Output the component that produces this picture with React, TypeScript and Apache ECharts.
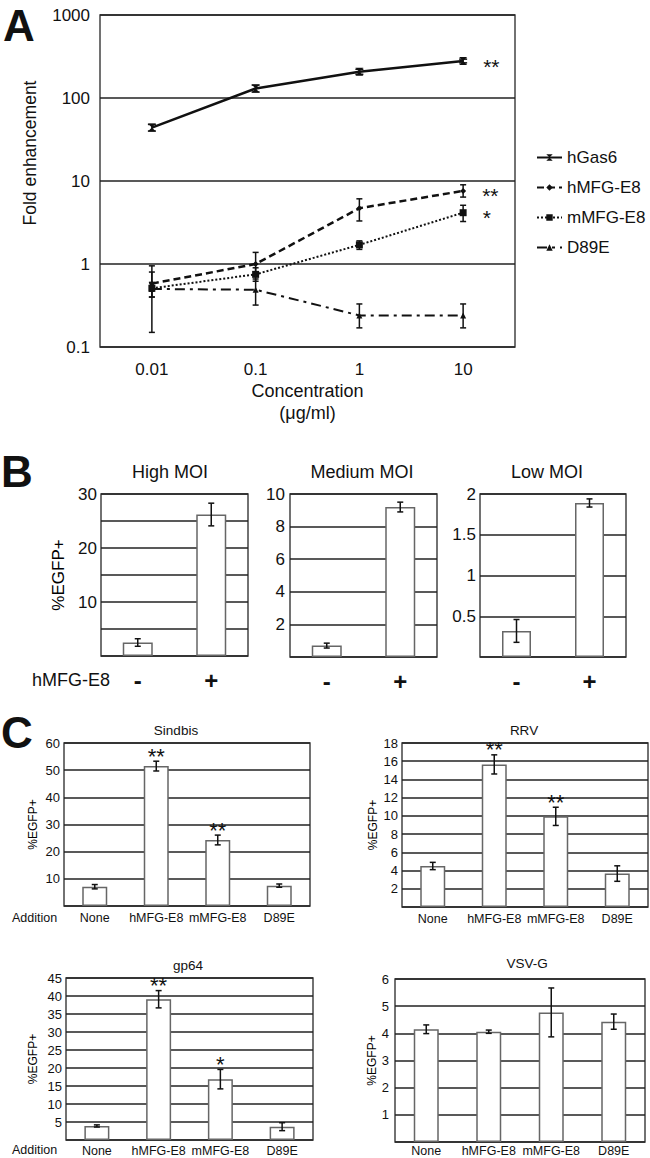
import React, { useEffect, useRef } from 'react';
import * as echarts from 'echarts';

const FONT = '"Liberation Sans", Arial, Helvetica, sans-serif';
const INK = '#111';

// ---------- Panel A ----------
const concentrations = ['0.01', '0.1', '1', '10'];
const lineNames = ['hGas6', 'hMFG-E8', 'mMFG-E8', 'D89E'];
const hGas6 = [44, 130, 207, 279];
const hGas6Low = [40, 118, 193, 265];
const hGas6High = [48, 143, 222, 294];
const hMFG = [0.58, 1.0, 4.7, 7.6];
const hMFGLow = [0.4, 0.72, 3.3, 6.4];
const hMFGHigh = [0.8, 1.38, 6.1, 9.0];
const mMFG = [0.51, 0.75, 1.7, 4.15];
const mMFGLow = [0.15, 0.62, 1.5, 3.25];
const mMFGHigh = [0.95, 0.9, 1.9, 5.1];
const d89e = [0.5, 0.49, 0.24, 0.24];
const d89eLow = [0.4, 0.32, 0.17, 0.17];
const d89eHigh = [0.6, 0.66, 0.33, 0.33];
const lineSig = ['**', '**', '*', ''];

// ---------- Panel B ----------
const moiGroups = ['-', '+'];
const moiTitles = ['High MOI', 'Medium MOI', 'Low MOI'];
const highMoi = [2.5, 26.2];
const highMoiErr = [0.7, 2.1];
const mediumMoi = [0.7, 9.2];
const mediumMoiErr = [0.15, 0.3];
const lowMoi = [0.32, 1.89];
const lowMoiErr = [0.14, 0.05];

// ---------- Panel C ----------
const additions = ['None', 'hMFG-E8', 'mMFG-E8', 'D89E'];
const virusTitles = ['Sindbis', 'RRV', 'gp64', 'VSV-G'];
const sindbis = [7.1, 51.5, 24.3, 7.5];
const sindbisErr = [0.8, 1.8, 1.8, 0.6];
const sindbisSig = ['', '**', '**', ''];
const rrv = [4.5, 15.65, 9.95, 3.67];
const rrvErr = [0.4, 1.05, 1.0, 0.85];
const rrvSig = ['', '**', '**', ''];
const gp64 = [3.9, 39.1, 16.9, 3.7];
const gp64Err = [0.3, 2.4, 2.7, 1.1];
const gp64Sig = ['', '**', '*', ''];
const vsvg = [4.15, 4.06, 4.77, 4.43];
const vsvgErr = [0.16, 0.06, 0.9, 0.28];
const vsvgSig = ['', '', '', ''];

const gridBase = {
  show: true,
  borderColor: '#444',
  borderWidth: 1.5,
  backgroundColor: 'transparent',
  containLabel: false,
  outerBoundsMode: 'none',
};

function errSeries(
  xi: number,
  lows: number[],
  highs: number[],
  cap: number,
  sig?: string[],
  sigSize = 22,
  sigGap = 5
) {
  return {
    type: 'custom',
    xAxisIndex: xi,
    yAxisIndex: xi,
    z: 6,
    silent: true,
    data: lows.map((l, i) => [i, l, highs[i]]),
    renderItem: (params: any, api: any) => {
      const i = api.value(0);
      const lo = api.coord([i, api.value(1)]);
      const hi = api.coord([i, api.value(2)]);
      const st = { stroke: INK, lineWidth: 1.5 };
      const children: any[] = [
        { type: 'line', shape: { x1: lo[0], y1: lo[1], x2: hi[0], y2: hi[1] }, style: st },
        { type: 'line', shape: { x1: lo[0] - cap, y1: lo[1], x2: lo[0] + cap, y2: lo[1] }, style: st },
        { type: 'line', shape: { x1: hi[0] - cap, y1: hi[1], x2: hi[0] + cap, y2: hi[1] }, style: st },
      ];
      const s = sig ? sig[params.dataIndex] : '';
      if (s) {
        children.push({
          type: 'text',
          style: {
            text: s,
            x: hi[0],
            y: hi[1] - sigGap,
            align: 'center',
            verticalAlign: 'middle',
            fontSize: sigSize,
            lineHeight: 12,
            fontFamily: FONT,
            fill: INK,
          },
        });
      }
      return { type: 'group', children };
    },
  };
}

function barSeries(xi: number, vals: number[], width: number) {
  return {
    type: 'bar',
    xAxisIndex: xi,
    yAxisIndex: xi,
    barWidth: width,
    z: 3,
    silent: true,
    data: vals,
    itemStyle: { color: '#fff', borderColor: '#666', borderWidth: 1.5 },
  };
}

function valueY(
  gi: number,
  max: number,
  interval: number,
  fontSize: number,
  margin: number,
  fmt: (v: number) => string,
  name?: string,
  nameGap?: number,
  nameSize?: number
) {
  return {
    type: 'value',
    gridIndex: gi,
    min: 0,
    max,
    interval,
    axisLine: { show: false },
    axisTick: { show: false },
    axisLabel: { fontSize, fontFamily: FONT, color: INK, margin, formatter: fmt },
    splitLine: { show: true, lineStyle: { color: '#222', width: 1.5 } },
    name: name || '',
    nameLocation: 'middle',
    nameGap: nameGap || 20,
    nameRotate: 90,
    nameTextStyle: { fontSize: nameSize || 12, fontFamily: FONT, color: '#000' },
  };
}

function catX(gi: number, data: string[], fontSize: number, margin: number, bold = false) {
  return {
    type: 'category',
    gridIndex: gi,
    data,
    boundaryGap: true,
    axisLine: { show: false },
    axisTick: { show: false },
    axisLabel: {
      interval: 0,
      fontSize,
      fontFamily: FONT,
      fontWeight: bold ? 'bold' : 'normal',
      color: INK,
      margin,
    },
    splitLine: { show: false },
  };
}

function txt(text: string, x: number, y: number, size: number, align = 'center', bold = false, rotation = 0) {
  return {
    type: 'text',
    x,
    y,
    rotation,
    silent: true,
    style: {
      text,
      x: 0,
      y: 0,
      fontSize: size,
      fontFamily: FONT,
      fontWeight: bold ? 'bold' : 'normal',
      fill: INK,
      align,
      verticalAlign: 'middle',
      textAlign: align,
      textVerticalAlign: 'middle',
    },
  };
}

const skipZero = (v: number) => (v === 0 ? '' : String(v));

export default function App() {
  const ref = useRef<HTMLDivElement>(null);

  useEffect(() => {
    if (!ref.current) return;
    const chart = echarts.init(ref.current, null, { renderer: 'svg' });

    const lineData = [hGas6, hMFG, mMFG, d89e];
    const lows = [hGas6Low, hMFGLow, mMFGLow, d89eLow];
    const highs = [hGas6High, hMFGHigh, mMFGHigh, d89eHigh];
    const styles: any[] = [
      { type: 'solid', width: 2.5, symbol: 'path://M0,0L10,0L0,10L10,10Z', size: 8 },
      { type: [7, 4], width: 2.5, symbol: 'diamond', size: 6 },
      { type: [2, 2], width: 2, symbol: 'rect', size: 7 },
      { type: [10, 5, 3, 5], width: 2, symbol: 'triangle', size: 6 },
    ];

    const lineSeries = lineNames.map((name, k) => ({
      name,
      type: 'line',
      xAxisIndex: 0,
      yAxisIndex: 0,
      z: 5,
      silent: true,
      symbol: styles[k].symbol,
      symbolSize: styles[k].size,
      lineStyle: { color: INK, width: styles[k].width, type: styles[k].type },
      itemStyle: { color: INK },
      data: lineData[k].map((v, i) =>
        i === concentrations.length - 1 && lineSig[k]
          ? {
              value: v,
              label: {
                show: true,
                formatter: lineSig[k],
                position: 'right',
                distance: 16,
                offset: [0, 5],
                fontSize: 21,
                lineHeight: 12,
                fontFamily: FONT,
                color: INK,
              },
            }
          : v
      ),
    }));

    const lineErr = lineNames.map((_, k) => errSeries(0, lows[k], highs[k], k === 0 ? 4 : 3));

    const option: any = {
      animation: false,
      backgroundColor: '#fff',
      textStyle: { fontFamily: FONT },
      grid: [
        { ...gridBase, left: 100, top: 15, width: 415, height: 332 },
        { ...gridBase, left: 101, top: 494, width: 147, height: 162 },
        { ...gridBase, left: 290, top: 494, width: 147, height: 163 },
        { ...gridBase, left: 480, top: 494, width: 146, height: 163 },
        { ...gridBase, left: 64, top: 743, width: 246, height: 163 },
        { ...gridBase, left: 402, top: 743, width: 246, height: 164 },
        { ...gridBase, left: 66, top: 978, width: 247, height: 162 },
        { ...gridBase, left: 395, top: 979, width: 250, height: 163 },
      ],
      xAxis: [
        {
          ...catX(0, concentrations, 17, 14),
          name: 'Concentration\n(μg/ml)',
          nameLocation: 'middle',
          nameGap: 33,
          nameTextStyle: { fontSize: 18, lineHeight: 22, fontFamily: FONT, color: INK },
        },
        catX(1, moiGroups, 24, 12, true),
        catX(2, moiGroups, 24, 12, true),
        catX(3, moiGroups, 24, 12, true),
        catX(4, additions, 12.5, 5),
        catX(5, additions, 12.5, 5),
        catX(6, additions, 12.5, 4),
        catX(7, additions, 12.5, 2),
      ],
      yAxis: [
        {
          type: 'log',
          logBase: 10,
          gridIndex: 0,
          min: 0.1,
          max: 1000,
          axisLine: { show: false },
          axisTick: { show: false },
          minorTick: { show: false },
          axisLabel: {
            fontSize: 17,
            fontFamily: FONT,
            color: INK,
            margin: 10,
            formatter: (v: number) => String(+Number(v).toPrecision(3)),
          },
          splitLine: { show: true, lineStyle: { color: '#222', width: 1.5 } },
        },
        valueY(1, 30, 5, 17, 4, (v) => (v % 10 === 0 && v > 0 ? String(v) : ''), '%EGFP+', 34, 17),
        valueY(2, 10, 2, 17, 5, skipZero),
        valueY(3, 2, 0.5, 17, 4, skipZero),
        valueY(4, 60, 10, 13, 4, skipZero, '%EGFP+', 25, 12),
        valueY(5, 18, 2, 13, 4, skipZero, '%EGFP+', 23, 12),
        valueY(6, 45, 5, 13, 4, skipZero, '%EGFP+', 27, 12),
        valueY(7, 6, 1, 13, 6, skipZero, '%EGFP+', 16, 12),
      ],
      legend: {
        data: lineNames,
        orient: 'vertical',
        left: 531,
        top: 144,
        itemWidth: 25,
        itemHeight: 8,
        itemGap: 13,
        selectedMode: false,
        textStyle: { fontSize: 17, fontFamily: FONT, color: INK },
      },
      graphic: [
        txt('A', 3, 25, 44, 'left', true),
        txt('B', 1, 471, 44, 'left', true),
        txt('C', 1, 732, 44, 'left', true),
        txt('Fold enhancement', 30, 153, 17.5, 'center', false, Math.PI / 2),
        txt(moiTitles[0], 170, 472, 18),
        txt(moiTitles[1], 362, 472, 18),
        txt(moiTitles[2], 547, 472, 18),
        txt('hMFG-E8', 32, 680, 18, 'left'),
        txt(virusTitles[0], 176, 730, 13.5),
        txt(virusTitles[1], 524, 730, 13.5),
        txt(virusTitles[2], 188, 965, 13.5),
        txt(virusTitles[3], 527, 963, 13.5),
        txt('Addition', 12, 918, 12.5, 'left'),
        txt('Addition', 12, 1150, 12.5, 'left'),
      ],
      series: [
        ...lineSeries,
        ...lineErr,
        barSeries(1, highMoi, 30),
        errSeries(1, highMoi.map((v, i) => v - highMoiErr[i]), highMoi.map((v, i) => v + highMoiErr[i]), 3),
        barSeries(2, mediumMoi, 30),
        errSeries(2, mediumMoi.map((v, i) => v - mediumMoiErr[i]), mediumMoi.map((v, i) => v + mediumMoiErr[i]), 3),
        barSeries(3, lowMoi, 29),
        errSeries(3, lowMoi.map((v, i) => v - lowMoiErr[i]), lowMoi.map((v, i) => v + lowMoiErr[i]), 3),
        barSeries(4, sindbis, 25),
        errSeries(4, sindbis.map((v, i) => v - sindbisErr[i]), sindbis.map((v, i) => v + sindbisErr[i]), 3, sindbisSig),
        barSeries(5, rrv, 25),
        errSeries(5, rrv.map((v, i) => v - rrvErr[i]), rrv.map((v, i) => v + rrvErr[i]), 3, rrvSig),
        barSeries(6, gp64, 25),
        errSeries(6, gp64.map((v, i) => v - gp64Err[i]), gp64.map((v, i) => v + gp64Err[i]), 3, gp64Sig),
        barSeries(7, vsvg, 25),
        errSeries(7, vsvg.map((v, i) => v - vsvgErr[i]), vsvg.map((v, i) => v + vsvgErr[i]), 3, vsvgSig),
      ],
    };

    chart.setOption(option);
    return () => chart.dispose();
  }, []);

  return (
    <div
      ref={ref}
      style={{ position: 'absolute', left: 0, top: 0, width: 650, height: 1158, background: '#fff' }}
    />
  );
}
